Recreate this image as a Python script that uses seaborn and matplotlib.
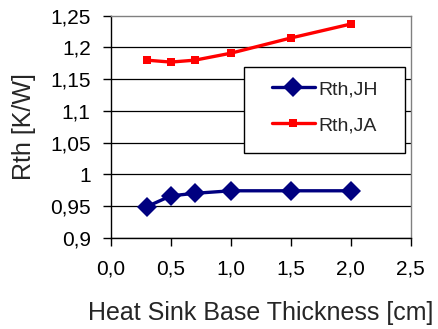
import matplotlib
matplotlib.use("Agg")
import matplotlib.pyplot as plt
import seaborn as sns
import pandas as pd
from matplotlib.ticker import FuncFormatter
from matplotlib.patches import Rectangle

# data
thickness = [0.3, 0.5, 0.7, 1.0, 1.5, 2.0]
rth_jh = [0.949, 0.966, 0.970, 0.974, 0.974, 0.974]
rth_ja = [1.180, 1.177, 1.180, 1.191, 1.215, 1.237]
series_names = ["Rth,JH", "Rth,JA"]
x_ticks = [0.0, 0.5, 1.0, 1.5, 2.0, 2.5]
y_ticks = [0.9, 0.95, 1.0, 1.05, 1.1, 1.15, 1.2, 1.25]

df = pd.DataFrame({
    "x": thickness * 2,
    "y": rth_jh + rth_ja,
    "series": [series_names[0]] * len(thickness) + [series_names[1]] * len(thickness),
})

sns.set_style("white")
plt.rcParams["font.family"] = ["Liberation Sans", "DejaVu Sans"]

fig = plt.figure(figsize=(4.38, 3.29), dpi=100)
ax = fig.add_axes([0.253, 0.2775, 0.685, 0.6745])

# horizontal grid
for ax_y in y_ticks[:-1]:
    ax.axhline(ax_y, color="#000000", lw=0.9, zorder=0)

sns.lineplot(data=df, x="x", y="y", hue="series", style="series",
             palette={"Rth,JH": "#000080", "Rth,JA": "#ff0000"},
             markers={"Rth,JH": "D", "Rth,JA": "s"},
             dashes=False, lw=2.4, markeredgewidth=0, ax=ax)
for line in ax.lines:
    if line.get_marker() == "D":
        line.set_markersize(10.5)
    elif line.get_marker() == "s":
        line.set_markersize(6)

ax.set_xlim(0, 2.5)
ax.set_ylim(0.9, 1.25)
ax.set_xticks(x_ticks)
ax.set_yticks(y_ticks)
ax.xaxis.set_major_formatter(FuncFormatter(lambda v, p: f"{v:.1f}".replace(".", ",")))
ax.yaxis.set_major_formatter(FuncFormatter(lambda v, p: f"{v:g}".replace(".", ",")))
ax.tick_params(axis="both", labelsize=15, colors="black", direction="out", length=6, width=1)
ax.tick_params(axis="x", pad=10)
ax.tick_params(axis="y", pad=8.5)
ax.xaxis.set_ticks_position("bottom")
ax.yaxis.set_ticks_position("left")

for s in ["left", "bottom"]:
    ax.spines[s].set_color("black")
    ax.spines[s].set_linewidth(1)
for s in ["right", "top"]:
    ax.spines[s].set_color("#808080")
    ax.spines[s].set_linewidth(1)

ax.set_xlabel("Heat Sink Base Thickness [cm]", fontsize=18, labelpad=16)
ax.set_ylabel("Rth [K/W]", fontsize=18, labelpad=10)

# legend box drawn separately, entries placed inside
ax.add_patch(Rectangle((0.443, 0.381), 0.537, 0.388, transform=ax.transAxes,
                       facecolor="white", edgecolor="black", lw=1, zorder=4))
leg = ax.legend(loc="upper left", bbox_to_anchor=(0.505, 0.752), fontsize=14,
                frameon=False, handlelength=2.2, handletextpad=0.2,
                labelspacing=0.95, borderpad=0, title=None)
leg.set_zorder(5)

fig.savefig("out.png", dpi=100)
